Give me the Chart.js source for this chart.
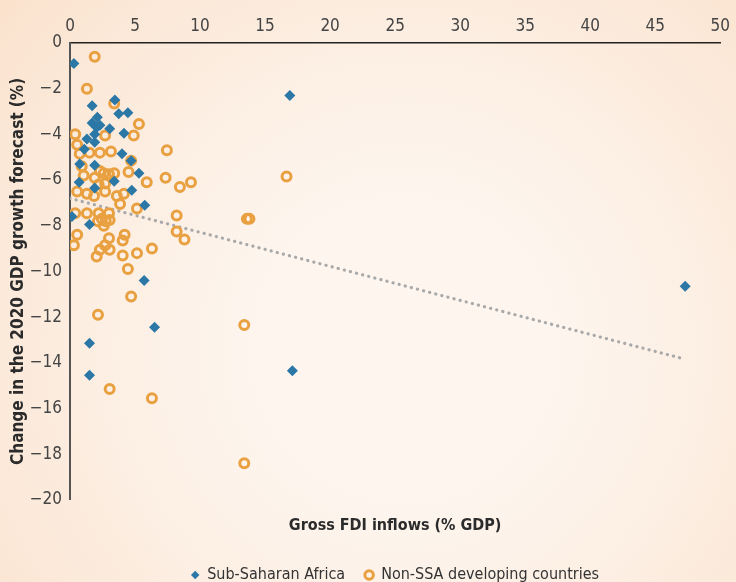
<!DOCTYPE html>
<html>
<head>
<meta charset="utf-8">
<script src="https://cdn.jsdelivr.net/npm/chart.js@4/dist/chart.umd.min.js"></script>
<style>
  html, body { margin: 0; padding: 0; background: #fdf5ee; }
  #wrap { width: 736px; height: 582px; }
</style>
</head>
<body>
<div id="wrap"><canvas id="fdi" width="736" height="582"></canvas></div>
<script>
// Sub-Saharan Africa: gross FDI inflows (% GDP) vs change in 2020 growth forecast
const ssaX = [0.3, 16.9, 3.45, 1.7, 3.75, 4.45, 2.1, 1.7, 3.05, 2.05, 2.3, 4.15, 1.9, 1.3, 1.9, 1.1,
              4.0, 4.7, 0.75, 1.9, 5.3, 3.4, 0.7, 1.9, 4.75, 5.75, 0.15, 1.5, 5.7, 6.5, 1.5, 1.5, 17.1, 47.3];
const ssaY = [-0.9, -2.3, -2.5, -2.75, -3.1, -3.05, -3.25, -3.5, -3.75, -3.7, -3.6, -3.95, -4.0, -4.2, -4.35, -4.65,
              -4.85, -5.15, -5.3, -5.35, -5.7, -6.05, -6.1, -6.35, -6.45, -7.1, -7.6, -7.95, -10.4, -12.45, -13.15, -14.55, -14.35, -10.65];

// Non-SSA developing countries
const otherX = [1.9, 1.3, 3.4, 5.3, 0.4, 2.7, 4.9, 7.45, 0.55, 0.75, 1.5, 2.3, 3.15, 4.7, 0.9, 1.05,
                2.3, 2.6, 3.0, 3.4, 4.5, 1.9, 2.7, 2.2, 7.35, 5.9, 8.45, 9.3, 16.65, 0.55, 1.3, 1.85,
                2.7, 3.6, 4.15, 3.85, 5.15, 0.4, 1.3, 2.2, 3.0, 2.45, 2.75, 2.15, 2.6, 3.05, 8.2, 13.6,
                13.8, 8.2, 8.8, 0.55, 0.3, 3.0, 2.7, 2.3, 2.05, 3.05, 4.2, 4.05, 4.05, 5.15, 6.3, 4.45,
                4.7, 2.15, 13.4, 3.05, 6.3, 13.4];
const otherY = [-0.6, -2.0, -2.65, -3.55, -4.0, -4.05, -4.05, -4.7, -4.45, -4.85, -4.8, -4.8, -4.75, -5.15, -5.4, -5.8,
                -5.6, -5.7, -5.75, -5.7, -5.65, -5.9, -6.15, -6.2, -5.9, -6.1, -6.3, -6.1, -5.85, -6.5, -6.6, -6.7,
                -6.5, -6.7, -6.6, -7.05, -7.25, -7.45, -7.45, -7.45, -7.45, -7.7, -7.8, -7.8, -8.0, -7.75, -7.55, -7.7,
                -7.7, -8.25, -8.6, -8.4, -8.85, -8.55, -8.85, -9.05, -9.35, -9.05, -8.4, -8.65, -9.3, -9.2, -9.0, -9.9,
                -11.1, -11.9, -12.35, -15.15, -15.55, -18.4];

// linear trend line end points
const trendX = [0, 47];
const trendY = [-6.8, -13.8];

const xTicks = [0, 5, 10, 15, 20, 25, 30, 35, 40, 45, 50];
const yTicks = [0, -2, -4, -6, -8, -10, -12, -14, -16, -18, -20];

const FONT = "'Liberation Sans Narrow', 'DejaVu Sans Condensed', 'Roboto Condensed', sans-serif";
const BLUE = '#2b77a6';
const ORANGE = '#e9a040';

const pts = (xs, ys) => xs.map((x, i) => ({ x: x, y: ys[i] }));

const bgPlugin = {
    id: 'bg',
    beforeDraw(chart) {
        const { ctx, width, height } = chart;
        ctx.save();
        ctx.fillStyle = '#fdf5ee';
        ctx.fillRect(0, 0, width, height);
        const g = ctx.createRadialGradient(width * 0.55, height * 0.6, 150, width * 0.55, height * 0.6, 560);
        g.addColorStop(0, 'rgba(251,228,208,0)');
        g.addColorStop(1, 'rgba(250,222,198,0.9)');
        ctx.fillStyle = g;
        ctx.fillRect(0, 0, width, height);
        ctx.restore();
    }
};

// centre the legend under the plot area rather than the whole canvas
const legendShift = {
    id: 'legendShift',
    afterLayout(chart) {
        const lg = chart.legend, ca = chart.chartArea;
        if (!lg) return;
        const dx = (ca.left + ca.right) / 2 - (lg.left + lg.right) / 2;
        lg.left += dx;
        lg.right += dx;
    }
};

new Chart(document.getElementById('fdi'), {
    type: 'scatter',
    data: {
        datasets: [
            {
                label: 'Sub-Saharan Africa',
                data: pts(ssaX, ssaY),
                pointStyle: 'rectRot',
                pointRadius: 5.5,
                backgroundColor: BLUE,
                borderColor: BLUE,
                borderWidth: 0
            },
            {
                label: 'Non-SSA developing countries',
                data: pts(otherX, otherY),
                pointStyle: 'circle',
                pointRadius: 4.5,
                backgroundColor: 'rgba(0,0,0,0)',
                borderColor: ORANGE,
                borderWidth: 3
            },
            {
                label: 'trend',
                type: 'line',
                data: pts(trendX, trendY),
                borderColor: '#a9a9a9',
                borderWidth: 3.2,
                borderDash: [0.1, 6.2],
                borderCapStyle: 'round',
                pointRadius: 0,
                fill: false
            }
        ]
    },
    options: {
        responsive: false,
        animation: false,
        layout: { padding: { left: 2, right: 5, top: 15, bottom: -11 } },
        scales: {
            x: {
                type: 'linear',
                position: 'top',
                min: 0, max: 50,
                afterBuildTicks: s => { s.ticks = xTicks.map(v => ({ value: v })); },
                afterFit: s => { s.height = 28; },
                grid: { display: false, drawTicks: false },
                border: { display: true, color: '#222', width: 1.5 },
                ticks: { color: '#444', font: { family: FONT, size: 17 }, padding: 6 }
            },
            x2: {
                type: 'linear',
                position: 'bottom',
                min: 0, max: 50,
                grid: { display: false, drawTicks: false },
                border: { display: false },
                ticks: { display: false },
                title: {
                    display: true,
                    text: 'Gross FDI inflows (% GDP)',
                    color: '#2b2b2b',
                    font: { family: FONT, size: 16, weight: 'bold' },
                    padding: { top: 16, bottom: 12 }
                }
            },
            y: {
                min: -20, max: 0,
                afterBuildTicks: s => { s.ticks = yTicks.map(v => ({ value: v })); },
                afterFit: s => { s.width = 68; },
                grid: { display: false, drawTicks: false },
                border: { display: true, color: '#555', width: 2 },
                ticks: {
                    color: '#444',
                    font: { family: FONT, size: 17 },
                    padding: 8,
                    callback: v => String(v).replace('-', '\u2212')
                },
                title: {
                    display: true,
                    text: 'Change in the 2020 GDP growth forecast (%)',
                    color: '#2b2b2b',
                    font: { family: FONT, size: 17, weight: 'bold' },
                    padding: { top: 6, bottom: 0 }
                }
            }
        },
        plugins: {
            legend: {
                position: 'bottom',
                labels: {
                    filter: item => item.text !== 'trend',
                    usePointStyle: true,
                    boxWidth: 8,
                    boxHeight: 6,
                    color: '#333',
                    padding: 20,
                    font: { family: FONT, size: 16 }
                }
            },
            tooltip: { enabled: false }
        }
    },
    plugins: [bgPlugin, legendShift]
});
</script>
</body>
</html>
